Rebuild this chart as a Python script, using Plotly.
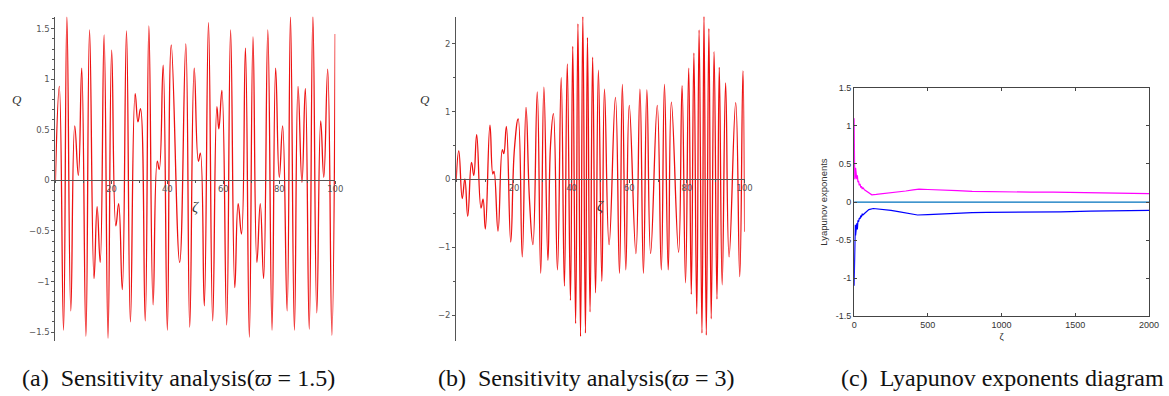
import plotly.graph_objects as go

# ---------------- data ----------------
# (a) sensitivity analysis, varpi = 1.5  (extrema)
zeta_a = [0.0, 1.4, 2.9, 4.1, 5.5, 6.9, 8.2, 9.4, 10.9, 12.2, 13.8, 14.9, 16.0, 17.4, 18.8,
          20.1, 21.6, 22.6, 23.9, 25.4, 26.8, 28.5, 29.5, 30.4, 32.1, 33.4, 34.9, 36.4, 37.1,
          38.5, 40.0, 41.4, 44.4, 46.6, 48.0, 49.6, 51.1, 51.8, 53.2, 54.7, 56.2, 57.7, 58.4,
          59.5, 61.2, 62.6, 64.1, 65.3, 66.5, 67.9, 69.3, 70.6, 72.0, 73.2, 74.4, 75.9, 77.4,
          78.7, 80.0, 81.2, 82.8, 84.0, 85.4, 86.7, 88.1, 89.3, 90.7, 92.0, 93.4, 94.8, 95.9,
          97.3, 98.8, 100.0]
q_a = [0.0, 0.93, -1.48, 1.62, -1.29, 0.54, 0.05, 1.11, -1.54, 1.49, -0.97, -0.26, -0.81, 1.44, -1.56,
       1.29, -0.45, -0.23, -1.08, 1.48, -1.40, 0.86, 0.58, 0.71, -1.39, 1.53, -1.23, 0.19, 0.11,
       1.14, -1.48, 1.34, -0.81, 1.35, -1.45, 1.11, 0.19, 0.27, -1.24, 1.56, -1.39, 0.73, 0.51,
       0.89, -1.43, 1.49, -1.06, -0.23, -0.53, 1.31, -1.55, 1.42, -0.81, -0.23, -0.97, 1.49, -1.48,
       1.11, 0.03, 0.54, -1.29, 1.62, -1.48, 0.93, -0.02, 0.91, -1.47, 1.63, -1.31, 0.59, 0.03,
       1.10, -1.53, 1.45]

# (b) sensitivity analysis, varpi = 3
zeta_b = [0.0, 0.9, 2.1, 3.0, 4.0, 5.3, 6.1, 7.1, 8.6, 9.3, 10.1, 11.7, 12.7, 13.1, 14.5, 16.0,
          16.5, 17.4, 18.9, 20.2, 21.5, 22.9, 24.2, 25.4, 26.6, 28.1, 29.3, 30.4, 31.8, 32.7,
          33.7, 35.1, 36.4, 37.5, 38.5, 39.6, 40.4, 41.4, 42.2, 43.1, 43.9, 44.8, 45.5, 46.4,
          47.3, 48.3, 49.3, 50.5, 51.4, 53.0, 55.2, 56.6, 57.6, 58.8, 60.0, 62.3, 63.7, 64.9,
          66.1, 67.4, 69.7, 71.1, 72.2, 73.5, 74.6, 77.1, 78.3, 79.5, 80.6, 81.5, 82.4, 83.4,
          84.2, 85.2, 85.9, 86.7, 87.6, 88.4, 89.4, 90.4, 91.2, 92.2, 93.4, 94.6, 96.9, 98.3,
          99.4, 100.0]
q_b = [0.0, 0.42, -0.28, 0.01, -0.54, 0.25, 0.06, 0.66, -0.42, -0.29, -0.73, 0.80, 0.08, 0.12, -0.76, 0.44,
       0.38, 0.78, -0.92, 0.46, 0.89, -1.14, 1.06, -0.30, -0.96, 1.29, -1.38, 1.36, -1.19, 0.51,
       0.97, -1.33, 1.50, -1.57, 1.70, -1.78, 1.96, -2.12, 2.29, -2.31, 2.40, -2.26, 2.09, -1.95,
       1.80, -1.67, 1.61, -1.50, 1.33, -0.96, 1.21, -1.38, 1.40, -1.33, 1.09, -1.09, 1.33, -1.38,
       1.32, -1.09, 1.09, -1.33, 1.40, -1.33, 1.14, -1.07, 1.38, -1.52, 1.64, -1.69, 1.86, -1.98,
       2.20, -2.26, 2.42, -2.29, 2.22, -2.05, 1.88, -1.76, 1.65, -1.55, 1.42, -1.14, 1.13, -1.43,
       1.60, -0.77]

# (c) Lyapunov exponents
zeta_c_pos = [0, 2, 4, 6, 8, 10, 12, 15, 18, 22, 26, 30, 35, 40, 45, 50, 55, 60, 70, 85, 100, 120,
              150, 175, 200, 250, 300, 350, 400, 440, 500, 600, 700, 800, 900, 1000, 1100, 1200,
              1350, 1500, 1700, 1850, 2000]
lyap_pos = [1.10, 0.60, 0.30, 0.42, 0.32, 0.45, 0.35, 0.40, 0.30, 0.35, 0.26, 0.28, 0.22, 0.24,
            0.19, 0.21, 0.17, 0.19, 0.16, 0.14, 0.12, 0.095, 0.10, 0.105, 0.11, 0.125, 0.135,
            0.145, 0.16, 0.17, 0.165, 0.16, 0.15, 0.14, 0.135, 0.135, 0.13, 0.13, 0.13, 0.125,
            0.12, 0.115, 0.11]
zeta_c_neg = [0, 2, 4, 6, 8, 10, 12, 15, 18, 22, 26, 30, 35, 40, 45, 50, 55, 60, 70, 85, 100, 130,
              160, 200, 250, 300, 350, 400, 430, 500, 600, 700, 800, 900, 1000, 1200, 1400, 1600,
              1800, 2000]
lyap_neg = [-1.10, -0.60, -0.32, -0.45, -0.30, -0.44, -0.33, -0.40, -0.28, -0.36, -0.24, -0.26,
            -0.21, -0.22, -0.18, -0.19, -0.16, -0.17, -0.15, -0.12, -0.10, -0.085, -0.09, -0.10,
            -0.11, -0.125, -0.14, -0.16, -0.17, -0.165, -0.155, -0.145, -0.14, -0.135, -0.135,
            -0.13, -0.13, -0.12, -0.115, -0.11]
zeta_c_zero = [0, 2000]
lyap_zero = [0, 0]

captions = ["(a)\u00a0 Sensitivity analysis(<i>\u03d6</i> = 1.5)",
            "(b)\u00a0 Sensitivity analysis(<i>\u03d6</i> = 3)",
            "(c)\u00a0 Lyapunov exponents diagram"]

# ---------------- layout helpers ----------------
W, H = 1169, 396
SERIF = "Liberation Serif, Times New Roman, Times, serif"


def px_x(p):
    return p / W


def px_y(p):
    return 1 - p / H


fig = go.Figure()

red = "#ee1111"
fig.add_trace(go.Scatter(x=zeta_a, y=q_a, mode="lines", line=dict(color=red, width=1.3, shape="spline", smoothing=1.3),
                         xaxis="x", yaxis="y", showlegend=False))
fig.add_trace(go.Scatter(x=zeta_b, y=q_b, mode="lines", line=dict(color=red, width=1.3, shape="spline", smoothing=1.3),
                         xaxis="x2", yaxis="y2", showlegend=False))
fig.add_trace(go.Scatter(x=zeta_c_pos, y=lyap_pos, mode="lines", line=dict(color="#ff00ff", width=1.2),
                         xaxis="x3", yaxis="y3", showlegend=False))
fig.add_trace(go.Scatter(x=zeta_c_neg, y=lyap_neg, mode="lines", line=dict(color="#0000ff", width=1.2),
                         xaxis="x3", yaxis="y3", showlegend=False))
fig.add_trace(go.Scatter(x=zeta_c_zero, y=lyap_zero, mode="lines", line=dict(color="#0072BD", width=1.2),
                         xaxis="x3", yaxis="y3", showlegend=False))

axcol = "#555555"
tickfont_m = dict(family="DejaVu Sans", size=8.5, color="#555555")

# panel a geometry
a_top, a_bot = 12, 345
a_ymax, a_ymin = (180 - a_top) / 103.7, (180 - a_bot) / 103.7
# panel b geometry
b_top, b_bot = 12, 345
b_ymax, b_ymin = (179 - b_top) / 69.7, (179 - b_bot) / 69.7

common_x = dict(showgrid=False, zeroline=False, showline=True, linecolor=axcol, linewidth=1,
                ticks="outside", ticklen=3, tickcolor=axcol, tickfont=tickfont_m,
                ticklabelstandoff=-3,
                minor=dict(dtick=10, ticklen=2, tickcolor=axcol, ticks="outside"))
common_y = dict(showgrid=False, zeroline=False, showline=True, linecolor=axcol, linewidth=1,
                ticks="outside", ticklen=3, tickcolor=axcol, tickfont=tickfont_m)

mat_font = dict(family="Liberation Sans, Arial, sans-serif", size=9, color="#333333")
mat_title = dict(family="Liberation Sans, Arial, sans-serif", size=9.5, color="#333333")

fig.update_layout(
    width=W, height=H, margin=dict(l=0, r=0, t=0, b=0), autosize=False,
    paper_bgcolor="white", plot_bgcolor="rgba(0,0,0,0)",
    xaxis=dict(domain=[px_x(53), px_x(336)], range=[0, 100], anchor="free",
               position=px_y(180), tickvals=[20, 40, 60, 80, 100], **common_x),
    yaxis=dict(domain=[px_y(a_bot), px_y(a_top)], range=[a_ymin, a_ymax], anchor="x",
               tickvals=[-1.5, -1, -0.5, 0, 0.5, 1, 1.5],
               ticktext=["\u22121.5", "\u22121", "\u22120.5", "0", "0.5", "1", "1.5"],
               minor=dict(dtick=0.1, ticklen=2, tickcolor=axcol, ticks="outside"), **common_y),
    xaxis2=dict(domain=[px_x(458.3), px_x(750)], range=[0, 100], anchor="free",
                position=px_y(179), tickvals=[20, 40, 60, 80, 100], **common_x),
    yaxis2=dict(domain=[px_y(b_bot), px_y(b_top)], range=[b_ymin, b_ymax], anchor="x2",
                tickvals=[-2, -1, 0, 1, 2], ticktext=["\u22122", "\u22121", "0", "1", "2"],
                minor=dict(dtick=0.5, ticklen=2, tickcolor=axcol, ticks="outside"), **common_y),
    xaxis3=dict(domain=[px_x(860.7), px_x(1159)], range=[0, 2000], anchor="y3",
                showgrid=False, zeroline=False, showline=True, mirror="allticks",
                linecolor="#444444", linewidth=1, ticks="inside", ticklen=3, tickcolor="#444444",
                tickvals=[0, 500, 1000, 1500, 2000], tickfont=mat_font,
                title=dict(text="\u03b6", font=mat_title, standoff=4)),
    yaxis3=dict(domain=[px_y(319.3), px_y(85)], range=[-1.5, 1.5], anchor="x3",
                showgrid=False, zeroline=False, showline=True, mirror="allticks",
                linecolor="#444444", linewidth=1, ticks="inside", ticklen=3, tickcolor="#444444",
                tickvals=[-1.5, -1, -0.5, 0, 0.5, 1, 1.5],
                ticktext=["-1.5", "-1", "-0.5", "0", "0.5", "1", "1.5"],
                tickfont=mat_font,
                title=dict(text="Lyapunov exponents", font=mat_title, standoff=6)),
)

annots = []
# axis titles for Maple-style panels
for xpx, ypx, txt, size in [(14, 97, "<i>Q</i>", 13), (427, 97, "<i>Q</i>", 13),
                             (195, 207, "<i>\u03b6</i>", 15), (604, 206, "<i>\u03b6</i>", 15)]:
    annots.append(dict(x=px_x(xpx), y=px_y(ypx), xref="paper", yref="paper", text=txt, showarrow=False,
                       xanchor="center", yanchor="middle",
                       font=dict(family=SERIF, size=size, color="#333333")))
# captions (left-anchored at the reference's text starts)
for lx, txt in zip([17, 438, 845], captions):
    annots.append(dict(x=px_x(lx), y=px_y(383), xref="paper", yref="paper", text=txt, showarrow=False,
                       xanchor="left", yanchor="middle",
                       font=dict(family=SERIF, size=24, color="#111111")))
fig.update_layout(annotations=annots)

fig.write_html("out.html", config={"responsive": False, "displayModeBar": False},
               post_script="document.body.style.margin='0';document.body.style.overflow='hidden';")
